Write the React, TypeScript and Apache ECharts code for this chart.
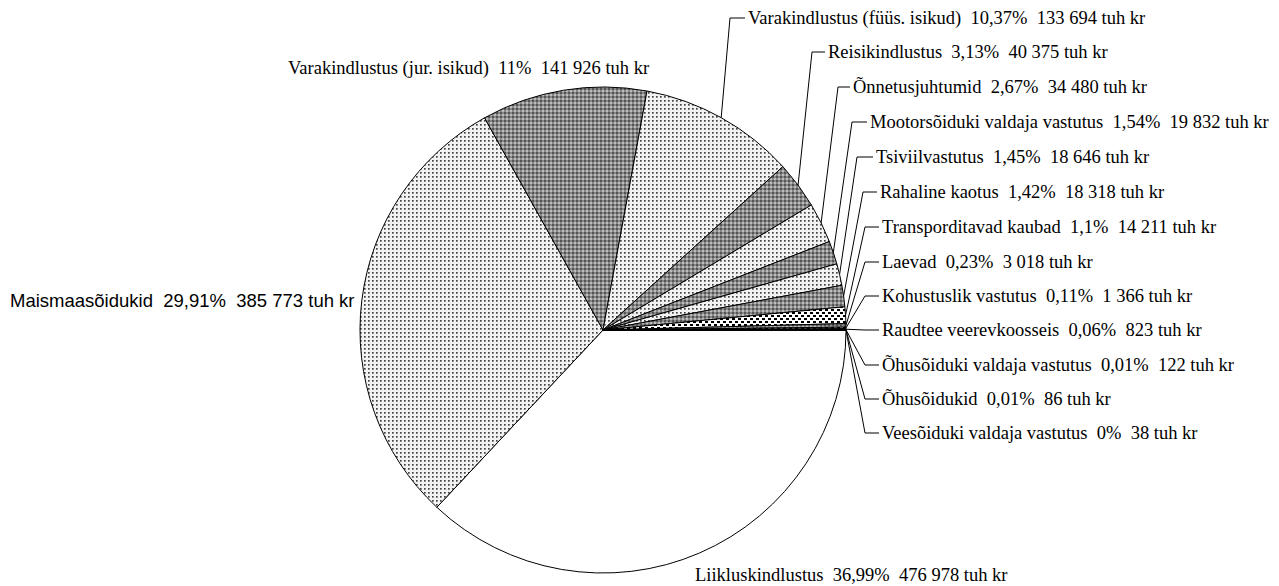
import React, { useEffect, useRef } from "react";
import * as echarts from "echarts";

const categories = [
  "Liikluskindlustus",
  "Maismaasõidukid",
  "Varakindlustus (jur. isikud)",
  "Varakindlustus (füüs. isikud)",
  "Reisikindlustus",
  "Õnnetusjuhtumid",
  "Mootorsõiduki valdaja vastutus",
  "Tsiviilvastutus",
  "Rahaline kaotus",
  "Transporditavad kaubad",
  "Laevad",
  "Kohustuslik vastutus",
  "Raudtee veerevkoosseis",
  "Õhusõiduki valdaja vastutus",
  "Õhusõidukid",
  "Veesõiduki valdaja vastutus",
];

const values = [
  476978, 385773, 141926, 133694, 40375, 34480, 19832, 18646, 18318, 14211,
  3018, 1366, 823, 122, 86, 38,
];

const percents = [
  36.99, 29.91, 11, 10.37, 3.13, 2.67, 1.54, 1.45, 1.42, 1.1, 0.23, 0.11, 0.06,
  0.01, 0.01, 0,
];

const fillKinds = [
  "white", "light", "dark", "light", "dark", "light", "dark", "light", "dark",
  "bigdots", "dark", "bigdots", "stripes", "white", "light", "white",
];

// label layout: text left x, text centre y, leader corner x (null = no leader)
const labelX = [695, 10, 288, 748, 828, 853, 870, 876, 880, 882, 882, 882, 882, 882, 882, 882];
const labelY = [575, 300, 68, 18, 52, 87, 122, 157, 192, 227, 262, 296, 330, 365, 399, 433];
const cornerX = [null, null, null, 730, 812, 838, 852, 857, 863, 865, 865, 865, 865, 865, 865, 865];

function fmtPct(p: number) {
  return String(p).replace(".", ",");
}
function fmtVal(v: number) {
  return String(v).replace(/\B(?=(\d{3})+(?!\d))/g, " ");
}

function makeTile(w: number, h: number, draw: (ctx: CanvasRenderingContext2D) => void) {
  const c = document.createElement("canvas");
  c.width = w;
  c.height = h;
  const ctx = c.getContext("2d")!;
  draw(ctx);
  return { image: c, repeat: "repeat", imageWidth: w, imageHeight: h } as any;
}

function makeFills() {
  const light = makeTile(4, 4, (ctx) => {
    ctx.fillStyle = "#f2f2f2";
    ctx.fillRect(0, 0, 4, 4);
    ctx.fillStyle = "#7a7a7a";
    ctx.fillRect(0, 0, 2, 2);
    ctx.fillStyle = "#404040";
    ctx.fillRect(0, 0, 1, 1);
    ctx.fillStyle = "#a0a0a0";
    ctx.fillRect(1, 1, 1, 1);
  });
  const dark = makeTile(4, 4, (ctx) => {
    ctx.fillStyle = "#888888";
    ctx.fillRect(0, 0, 4, 4);
    ctx.fillStyle = "#555555";
    ctx.fillRect(0, 0, 2, 2);
    ctx.fillStyle = "#bcbcbc";
    ctx.fillRect(2, 2, 2, 2);
  });
  const bigdots = makeTile(6, 6, (ctx) => {
    ctx.fillStyle = "#ffffff";
    ctx.fillRect(0, 0, 6, 6);
    ctx.fillStyle = "#000000";
    ctx.fillRect(0, 0, 3, 2);
    ctx.fillRect(3, 3, 3, 2);
  });
  const stripes = makeTile(4, 2, (ctx) => {
    ctx.fillStyle = "#ffffff";
    ctx.fillRect(0, 0, 4, 2);
    ctx.fillStyle = "#000000";
    ctx.fillRect(0, 0, 4, 1);
  });
  return { white: "#ffffff", light, dark, bigdots, stripes } as Record<string, any>;
}

export default function App() {
  const ref = useRef<HTMLDivElement>(null);

  useEffect(() => {
    document.body.style.margin = "0";
    if (!ref.current) return;
    const chart = echarts.init(ref.current, null, { renderer: "svg" });
    const fills = makeFills();

    const data = categories.map((name, i) => ({
      name,
      value: values[i],
      itemStyle: { color: fills[fillKinds[i]] },
      label: i === 1 ? { fontFamily: "'Liberation Sans', Arial, sans-serif" } : {},
      labelLine: { show: cornerX[i] != null },
    }));

    chart.setOption({
      animation: false,
      backgroundColor: "#ffffff",
      series: [
        {
          type: "pie",
          center: [603, 330],
          radius: 243,
          startAngle: 0,
          clockwise: true,
          avoidLabelOverlap: false,
          silent: true,
          emphasis: { disabled: true },
          itemStyle: { borderColor: "#000", borderWidth: 1 },
          label: {
            show: true,
            color: "#000",
            fontFamily: "'Liberation Serif', 'Times New Roman', serif",
            fontSize: 18.5,
            formatter: (p: any) =>
              `${p.name}  ${fmtPct(percents[p.dataIndex])}%  ${fmtVal(values[p.dataIndex])} tuh kr`,
          },
          labelLine: {
            show: true,
            length: 10,
            length2: 10,
            lineStyle: { color: "#000", width: 1 },
          },
          labelLayout: (params: any) => {
            const i = params.dataIndex;
            const x = labelX[i];
            const y = labelY[i];
            const res: any = { x, y, align: "left", verticalAlign: "middle" };
            const cx = cornerX[i];
            if (cx != null && params.labelLinePoints && params.labelLinePoints[0]) {
              const s = params.labelLinePoints[0];
              res.labelLinePoints = [
                [s[0], s[1]],
                [cx, y],
                [x - 3, y],
              ];
            }
            return res;
          },
          data,
        },
      ],
    });
    return () => chart.dispose();
  }, []);

  return <div ref={ref} style={{ width: 1279, height: 586 }} />;
}
